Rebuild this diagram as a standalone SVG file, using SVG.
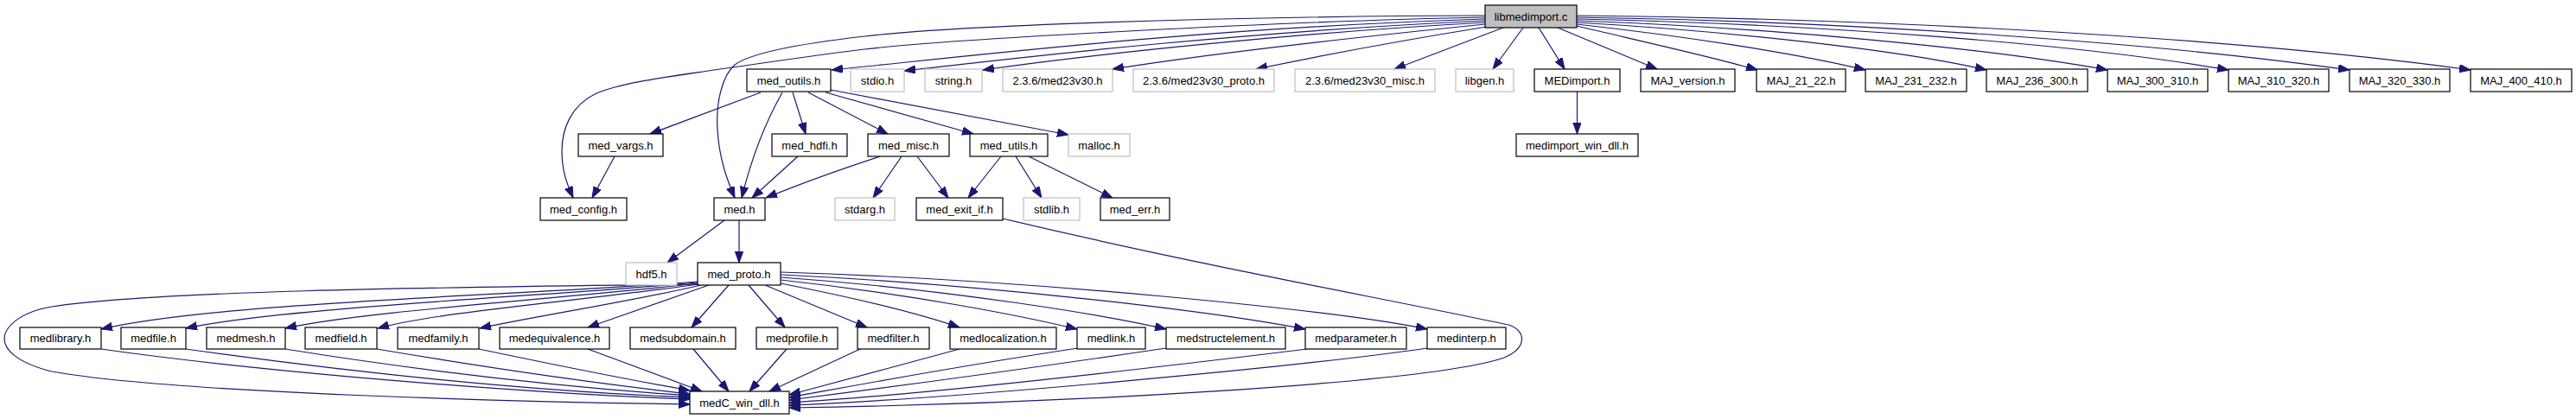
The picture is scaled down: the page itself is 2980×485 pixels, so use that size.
<svg xmlns="http://www.w3.org/2000/svg" width="2980" height="485" viewBox="0 0 2980 485">
<style>
rect{fill:#fff;stroke:#000;stroke-width:1.2}
rect.ext{stroke:#bfbfbf}
rect.root{fill:#bfbfbf}
text{font-family:"Liberation Sans",Arial,sans-serif;font-size:13px;text-anchor:middle;fill:#000}
#edges path{fill:none;stroke:#191970;stroke-width:1.2;marker-end:url(#ah)}
</style>
<defs>
<marker id="ah" markerUnits="userSpaceOnUse" markerWidth="14" markerHeight="10" refX="13" refY="4.7" orient="auto" viewBox="0 0 14 10">
<path d="M0,0 L13,4.7 L0,9.4 z" fill="#191970" stroke="#191970" stroke-width="1"/>
</marker>
</defs>
<rect x="0" y="0" width="2980" height="485" style="fill:#fff;stroke:none"/>
<g id="edges">
<path d="M1718,18 C1400,19 1100,30 1000,42 C930,50 870,60 850,75 C835,88 828,120 830,150 C832,185 842,210 850,229"/>
<path d="M1718,20 C1500,24 1100,45 1000,57 C920,67 870,75 833,80 C780,88 720,95 690,108 C660,122 650,150 650,175 C650,200 657,215 663,229"/>
<path d="M1718,22 C1400,32 1150,62 962,81"/>
<path d="M1718,24 C1450,36 1200,64 1046,82"/>
<path d="M1718,26 C1500,38 1270,62 1137,81"/>
<path d="M1718,28 C1580,42 1400,62 1287,80"/>
<path d="M1720,31 C1620,47 1520,66 1453,80"/>
<path d="M1739,32 L1613,80"/>
<path d="M1762,32 L1727,80"/>
<path d="M1780,32 L1810,80"/>
<path d="M1802,32 L1917,80"/>
<path d="M1824,30 C1900,48 1990,68 2033,81"/>
<path d="M1824,28 C1950,42 2080,62 2158,81"/>
<path d="M1824,26 C2000,36 2200,58 2298,81"/>
<path d="M1824,24 C2050,32 2300,56 2438,81"/>
<path d="M1824,22 C2100,28 2400,50 2578,81"/>
<path d="M1824,20 C2150,25 2500,50 2718,81"/>
<path d="M1824,18 C2200,22 2600,45 2858,81"/>
<path d="M880,107 L752,155"/>
<path d="M905,107 Q875,160 858,229"/>
<path d="M917,107 L932,155"/>
<path d="M935,107 L1027,155"/>
<path d="M955,107 L1126,155"/>
<path d="M961,104 L1236,156"/>
<path d="M711,181 L685,229"/>
<path d="M923,181 L870,229"/>
<path d="M1018,181 C960,200 920,215 886,229"/>
<path d="M1043,181 L1010,229"/>
<path d="M1061,181 L1097,229"/>
<path d="M1158,181 L1120,229"/>
<path d="M1175,181 L1205,229"/>
<path d="M1190,181 L1287,229"/>
<path d="M1824.5,106 L1824.5,155"/>
<path d="M838,255 L772,304"/>
<path d="M855,255 L855,304"/>
<path d="M807,326 C600,342 250,350 117,381"/>
<path d="M807,327 C600,345 330,356 215,380"/>
<path d="M808,328 C650,346 420,360 330,380"/>
<path d="M809,329 C680,347 500,362 437,380"/>
<path d="M811,330 C740,347 620,366 555,380"/>
<path d="M820,330 L680,379"/>
<path d="M843,330 L800,379"/>
<path d="M866,330 L908,379"/>
<path d="M885,330 L1003,379"/>
<path d="M903,328 C990,345 1060,362 1110,379"/>
<path d="M903,324 C1050,340 1180,365 1246,381"/>
<path d="M903,321 C1100,335 1280,365 1349,381"/>
<path d="M903,318 C1150,330 1400,360 1510,381"/>
<path d="M903,315 C1200,324 1550,360 1651,381"/>
<path d="M807,329 C600,332 200,334 60,355 C20,362 5,380 5,392 C5,405 20,420 60,430 C200,455 600,465 798,468"/>
<path d="M117,404 C300,430 600,455 798,462"/>
<path d="M215,404 C400,430 600,452 798,460"/>
<path d="M330,404 C480,428 650,448 798,458"/>
<path d="M436,404 C560,425 700,445 798,456"/>
<path d="M554,404 C640,422 730,440 798,452"/>
<path d="M680,404 L812,453"/>
<path d="M802,404 L843,453"/>
<path d="M910,404 L867,453"/>
<path d="M995,404 L890,453"/>
<path d="M1110,404 C1050,420 960,445 913,457"/>
<path d="M1247,403 C1100,425 980,448 913,460"/>
<path d="M1349,403 C1200,425 1000,452 913,463"/>
<path d="M1512,404 C1300,430 1050,458 913,466"/>
<path d="M1651,403 C1500,425 1100,462 913,469"/>
<path d="M1160,253 C1400,310 1600,345 1745,376 C1765,382 1768,402 1740,414 C1650,445 1200,468 913,472"/>
</g>
<g id="n_libmedimport"><rect class="root" x="1718" y="6" width="106" height="26"/><text x="1771" y="23.5">libmedimport.c</text></g>
<g id="n_med_outils"><rect x="864" y="80" width="97" height="26"/><text x="912.5" y="97.5">med_outils.h</text></g>
<g id="n_stdio"><rect class="ext" x="984" y="80" width="62" height="26"/><text x="1015" y="97.5">stdio.h</text></g>
<g id="n_string"><rect class="ext" x="1070" y="80" width="66" height="26"/><text x="1103" y="97.5">string.h</text></g>
<g id="n_med23v30"><rect class="ext" x="1160" y="80" width="127" height="26"/><text x="1223.5" y="97.5">2.3.6/med23v30.h</text></g>
<g id="n_med23v30_proto"><rect class="ext" x="1311" y="80" width="163" height="26"/><text x="1392.5" y="97.5">2.3.6/med23v30_proto.h</text></g>
<g id="n_med23v30_misc"><rect class="ext" x="1498" y="80" width="162" height="26"/><text x="1579" y="97.5">2.3.6/med23v30_misc.h</text></g>
<g id="n_libgen"><rect class="ext" x="1684" y="80" width="67" height="26"/><text x="1717.5" y="97.5">libgen.h</text></g>
<g id="n_MEDimport"><rect x="1775" y="80" width="99" height="26"/><text x="1824.5" y="97.5">MEDimport.h</text></g>
<g id="n_MAJ_version"><rect x="1898" y="80" width="109" height="26"/><text x="1952.5" y="97.5">MAJ_version.h</text></g>
<g id="n_MAJ_21_22"><rect x="2032" y="80" width="103" height="26"/><text x="2083.5" y="97.5">MAJ_21_22.h</text></g>
<g id="n_MAJ_231_232"><rect x="2158" y="80" width="117" height="26"/><text x="2216.5" y="97.5">MAJ_231_232.h</text></g>
<g id="n_MAJ_236_300"><rect x="2298" y="80" width="117" height="26"/><text x="2356.5" y="97.5">MAJ_236_300.h</text></g>
<g id="n_MAJ_300_310"><rect x="2438" y="80" width="116" height="26"/><text x="2496" y="97.5">MAJ_300_310.h</text></g>
<g id="n_MAJ_310_320"><rect x="2578" y="80" width="116" height="26"/><text x="2636" y="97.5">MAJ_310_320.h</text></g>
<g id="n_MAJ_320_330"><rect x="2718" y="80" width="116" height="26"/><text x="2776" y="97.5">MAJ_320_330.h</text></g>
<g id="n_MAJ_400_410"><rect x="2858" y="80" width="117" height="26"/><text x="2916.5" y="97.5">MAJ_400_410.h</text></g>
<g id="n_med_vargs"><rect x="669" y="155" width="98" height="26"/><text x="718" y="172.5">med_vargs.h</text></g>
<g id="n_med_hdfi"><rect x="893" y="155" width="87" height="26"/><text x="936.5" y="172.5">med_hdfi.h</text></g>
<g id="n_med_misc"><rect x="1004" y="155" width="94" height="26"/><text x="1051" y="172.5">med_misc.h</text></g>
<g id="n_med_utils"><rect x="1122" y="155" width="90" height="26"/><text x="1167" y="172.5">med_utils.h</text></g>
<g id="n_malloc"><rect class="ext" x="1236" y="155" width="71" height="26"/><text x="1271.5" y="172.5">malloc.h</text></g>
<g id="n_medimport_win_dll"><rect x="1754" y="155" width="141" height="26"/><text x="1824.5" y="172.5">medimport_win_dll.h</text></g>
<g id="n_med_config"><rect x="625" y="229" width="100" height="26"/><text x="675" y="246.5">med_config.h</text></g>
<g id="n_med"><rect x="826" y="229" width="59" height="26"/><text x="855.5" y="246.5">med.h</text></g>
<g id="n_stdarg"><rect class="ext" x="966" y="229" width="69" height="26"/><text x="1000.5" y="246.5">stdarg.h</text></g>
<g id="n_med_exit_if"><rect x="1060" y="229" width="100" height="26"/><text x="1110" y="246.5">med_exit_if.h</text></g>
<g id="n_stdlib"><rect class="ext" x="1184" y="229" width="65" height="26"/><text x="1216.5" y="246.5">stdlib.h</text></g>
<g id="n_med_err"><rect x="1273" y="229" width="80" height="26"/><text x="1313" y="246.5">med_err.h</text></g>
<g id="n_hdf5"><rect class="ext" x="724" y="304" width="59" height="26"/><text x="753.5" y="321.5">hdf5.h</text></g>
<g id="n_med_proto"><rect x="807" y="304" width="96" height="26"/><text x="855" y="321.5">med_proto.h</text></g>
<g id="n_medlibrary"><rect x="23" y="379" width="94" height="25"/><text x="70" y="396">medlibrary.h</text></g>
<g id="n_medfile"><rect x="140" y="379" width="75" height="25"/><text x="177.5" y="396">medfile.h</text></g>
<g id="n_medmesh"><rect x="239" y="379" width="91" height="25"/><text x="284.5" y="396">medmesh.h</text></g>
<g id="n_medfield"><rect x="353" y="379" width="83" height="25"/><text x="394.5" y="396">medfield.h</text></g>
<g id="n_medfamily"><rect x="460" y="379" width="94" height="25"/><text x="507" y="396">medfamily.h</text></g>
<g id="n_medequivalence"><rect x="578" y="379" width="127" height="25"/><text x="641.5" y="396">medequivalence.h</text></g>
<g id="n_medsubdomain"><rect x="729" y="379" width="122" height="25"/><text x="790" y="396">medsubdomain.h</text></g>
<g id="n_medprofile"><rect x="875" y="379" width="94" height="25"/><text x="922" y="396">medprofile.h</text></g>
<g id="n_medfilter"><rect x="992" y="379" width="83" height="25"/><text x="1033.5" y="396">medfilter.h</text></g>
<g id="n_medlocalization"><rect x="1099" y="379" width="123" height="25"/><text x="1160.5" y="396">medlocalization.h</text></g>
<g id="n_medlink"><rect x="1246" y="379" width="79" height="25"/><text x="1285.5" y="396">medlink.h</text></g>
<g id="n_medstructelement"><rect x="1349" y="379" width="138" height="25"/><text x="1418" y="396">medstructelement.h</text></g>
<g id="n_medparameter"><rect x="1510" y="379" width="117" height="25"/><text x="1568.5" y="396">medparameter.h</text></g>
<g id="n_medinterp"><rect x="1651" y="379" width="91" height="25"/><text x="1696.5" y="396">medinterp.h</text></g>
<g id="n_medC_win_dll"><rect x="798" y="453" width="115" height="26"/><text x="855.5" y="470.5">medC_win_dll.h</text></g>
</svg>
